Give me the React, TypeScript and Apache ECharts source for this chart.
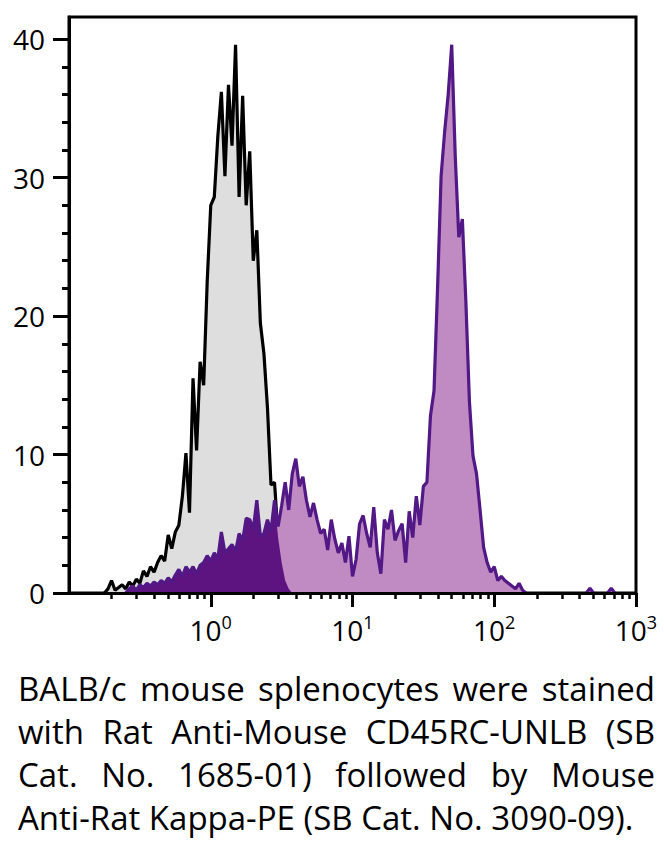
import React, { useEffect, useRef } from "react";
import * as echarts from "echarts";

// Histogram channels on a log10 grid: channel i sits at log10(x) = LOG_START + i * LOG_STEP
const LOG_START = -0.75;
const LOG_STEP = 0.025;

// Control (grey) histogram counts per channel
const grayCounts: number[] = [
  0, 0.3, 0.9, 0.2, 0.4, 0.6, 0.3, 0.8, 0.5, 1.0,
  0.7, 1.6, 1.2, 1.9, 1.5, 2.2, 2.7, 2.3, 4.2, 3.2,
  4.4, 4.9, 7.0, 10.1, 5.8, 15.5, 10.3, 16.7, 15.0, 22.5,
  28.0, 28.6, 33.0, 36.2, 30.1, 36.7, 32.3, 39.6, 28.6, 35.9,
  28.0, 31.9, 24.0, 26.2, 19.5, 17.3, 13.4, 7.8, 8.0, 4.0,
  2.2, 0.9, 0.3, 0,
];

// Stained (purple) histogram counts per channel (null = no events drawn)
const purpleCounts: (number | null)[] = [
  null, null, null, null, null, null, 0, 0.3, 0.5, 0.2,
  0.6, 0.4, 0.7, 0.5, 0.8, 0.6, 0.9, 0.7, 1.1, 0.8,
  1.3, 1.7, 1.2, 1.9, 1.5, 1.9, 1.4, 2.0, 2.2, 2.7,
  2.3, 2.9, 2.5, 4.4, 2.9, 3.2, 3.5, 3.0, 4.3, 3.8,
  5.4, 5.3, 4.6, 6.7, 4.1, 4.3, 5.3, 4.5, 6.7, 4.8,
  6.3, 8.0, 6.0, 8.6, 9.7, 7.7, 8.4, 6.7, 5.5, 6.5,
  5.3, 4.3, 4.6, 3.1, 5.3, 3.9, 2.9, 3.6, 2.2, 4.1,
  1.2, 2.4, 5.0, 5.6, 4.3, 3.3, 6.2, 2.9, 1.4, 5.3,
  4.6, 6.0, 3.8, 4.5, 5.0, 2.2, 5.9, 4.0, 7.0, 4.9,
  7.7, 8.0, 12.8, 14.6, 22.0, 30.1, 33.3, 36.0, 39.6, 31.5,
  25.7, 27.0, 21.0, 13.8, 9.9, 8.6, 6.0, 3.3, 2.2, 1.5,
  1.9, 0.9, 1.2, 0.9, 0.7, 0.5, 0.3, 0.7, 0.2, 0,
  null, null, null, null, null, null, null, null, null, null,
  null, null, null, null, null, null, 0, 0.35, 0, null,
  null, null, 0, 0.35, 0,
];

const yMajorTicks = [0, 10, 20, 30, 40];
const yMinorTicks = [2, 4, 6, 8, 12, 14, 16, 18, 22, 24, 26, 28, 32, 34, 36, 38];
const xDecades = [0, 1, 2, 3];
const xMinorMultipliers = [2, 3, 4, 5, 6, 7, 8, 9];
const xMinorDecades = [-1, 0, 1, 2];

const captionLines = [
  "BALB/c mouse splenocytes were stained",
  "with Rat Anti-Mouse CD45RC-UNLB (SB",
  "Cat. No. 1685-01) followed by Mouse",
  "Anti-Rat Kappa-PE (SB Cat. No. 3090-09).",
];

const FONT = "'Open Sans', 'Noto Sans', sans-serif";

function logOf(i: number) {
  return LOG_START + i * LOG_STEP;
}

export default function App() {
  const ref = useRef<HTMLDivElement>(null);

  useEffect(() => {
    if (!ref.current) return;
    const chart = echarts.init(ref.current, undefined, { renderer: "svg" });

    const grayData = grayCounts.map((v, i) => [logOf(i), v]);
    const purpleData = purpleCounts.map((v, i) => [logOf(i), v === null ? null : v]);
    const overlapData = grayCounts.map((g, i) => {
      const p = purpleCounts[i];
      return [logOf(i), p === null || p === undefined ? null : Math.min(g, p)];
    });

    const xMinorTicks: number[] = [];
    xMinorDecades.forEach((d) =>
      xMinorMultipliers.forEach((m) => xMinorTicks.push(d + Math.log10(m)))
    );

    const axisBase = {
      splitLine: { show: false },
      z: 10,
    };

    chart.setOption({
      animation: false,
      textStyle: { fontFamily: FONT },
      grid: {
        left: 69,
        top: 17,
        width: 567,
        height: 576,
        show: true,
        borderColor: "#000",
        borderWidth: 3,
        backgroundColor: "transparent",
      },
      xAxis: [
        {
          ...axisBase,
          type: "value",
          min: -1,
          max: 3,
          position: "bottom",
          axisLine: { show: true, onZero: false, lineStyle: { color: "#000", width: 3 } },
          axisTick: {
            show: true,
            customValues: xDecades,
            length: 14,
            lineStyle: { color: "#000", width: 3 },
          },
          axisLabel: {
            show: true,
            customValues: xDecades,
            margin: 20,
            color: "#000",
            formatter: (v: number) => `{b|10}{s|${Math.round(v)}}`,
            rich: {
              b: { fontSize: 28, lineHeight: 34, fontFamily: FONT, color: "#000" },
              s: { fontSize: 18, lineHeight: 18, verticalAlign: "top", fontFamily: FONT, color: "#000" },
            },
          },
        },
        {
          ...axisBase,
          type: "value",
          min: -1,
          max: 3,
          position: "bottom",
          axisLine: { show: false, onZero: false },
          axisTick: {
            show: true,
            customValues: xMinorTicks,
            length: 6,
            lineStyle: { color: "#000", width: 2.5 },
          },
          axisLabel: { show: false, customValues: xMinorTicks },
        },
      ],
      yAxis: [
        {
          ...axisBase,
          type: "value",
          min: 0,
          max: 41.6,
          position: "left",
          axisLine: { show: true, onZero: false, lineStyle: { color: "#000", width: 3 } },
          axisTick: {
            show: true,
            customValues: yMajorTicks,
            length: 16,
            lineStyle: { color: "#000", width: 3 },
          },
          axisLabel: {
            show: true,
            customValues: yMajorTicks,
            margin: 24,
            fontSize: 28,
            color: "#000",
            fontFamily: FONT,
          },
        },
        {
          ...axisBase,
          type: "value",
          min: 0,
          max: 41.6,
          position: "left",
          axisLine: { show: false, onZero: false },
          axisTick: {
            show: true,
            customValues: yMinorTicks,
            length: 7,
            lineStyle: { color: "#000", width: 3 },
          },
          axisLabel: { show: false, customValues: yMinorTicks },
        },
      ],
      series: [
        {
          name: "Control",
          type: "line",
          xAxisIndex: 0,
          yAxisIndex: 0,
          data: grayData,
          showSymbol: false,
          connectNulls: false,
          lineStyle: { color: "#000", width: 3.2 },
          areaStyle: { color: "#dedede", opacity: 1 },
          z: 2,
        },
        {
          name: "Stained fill",
          type: "line",
          xAxisIndex: 0,
          yAxisIndex: 0,
          data: purpleData,
          showSymbol: false,
          connectNulls: false,
          lineStyle: { width: 0, color: "#c08ac2" },
          areaStyle: { color: "#c08ac2", opacity: 1 },
          z: 3,
        },
        {
          name: "Overlap",
          type: "line",
          xAxisIndex: 0,
          yAxisIndex: 0,
          data: overlapData,
          showSymbol: false,
          connectNulls: false,
          lineStyle: { width: 0, color: "#5e1480" },
          areaStyle: { color: "#5e1480", opacity: 1 },
          z: 4,
        },
        {
          name: "Stained",
          type: "line",
          xAxisIndex: 0,
          yAxisIndex: 0,
          data: purpleData,
          showSymbol: false,
          connectNulls: false,
          lineStyle: { color: "#511886", width: 3.2 },
          z: 5,
        },
      ],
    });

    return () => {
      chart.dispose();
    };
  }, []);

  return (
    <div
      style={{
        position: "fixed",
        left: 0,
        top: 0,
        width: 664,
        height: 841,
        background: "#fff",
        overflow: "hidden",
      }}
    >
      <div ref={ref} style={{ position: "absolute", left: 0, top: 0, width: 664, height: 662 }} />
      <div
        style={{
          position: "absolute",
          left: 18,
          top: 667,
          width: 637,
          fontFamily: FONT,
          fontSize: 33,
          lineHeight: "43px",
          color: "#000",
        }}
      >
        {captionLines.map((line, i) => {
          const last = i === captionLines.length - 1;
          return (
            <div
              key={i}
              style={{
                whiteSpace: "nowrap",
                textAlign: last ? "left" : "justify",
                textAlignLast: last ? "left" : "justify",
              } as React.CSSProperties}
            >
              {line}
            </div>
          );
        })}
      </div>
    </div>
  );
}
